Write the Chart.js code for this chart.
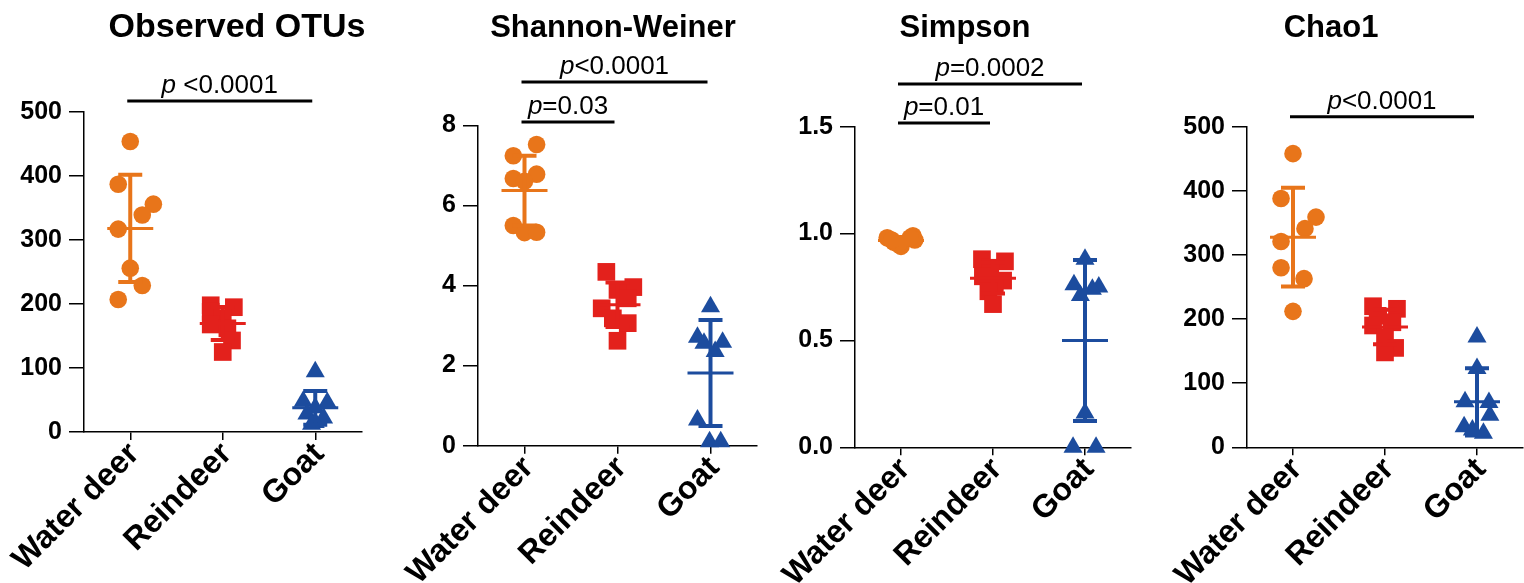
<!DOCTYPE html>
<html>
<head>
<meta charset="utf-8">
<script src="https://cdn.jsdelivr.net/npm/chart.js@4.4.1/dist/chart.umd.min.js"></script>
<style>
  body { margin: 0; background: #fff; width: 1524px; height: 583px; position: relative; overflow: hidden; }
  canvas { position: absolute; top: 0; }
</style>
</head>
<body>
<canvas id="c0"></canvas>
<canvas id="c1"></canvas>
<canvas id="c2"></canvas>
<canvas id="c3"></canvas>
<script>
const groups = ['Water deer', 'Reindeer', 'Goat'];

// Observed OTUs
const otusWaterDeer = [454, 387, 356, 339, 317, 256, 229, 207];
const otusReindeer = [198, 195, 188, 178, 168, 162, 143, 125];
const otusGoat = [94, 48, 46, 38, 28, 22, 15, 12];
const otusTicks = [0, 100, 200, 300, 400, 500];

// Shannon-Weiner
const shannonWaterDeer = [7.52, 7.24, 6.78, 6.67, 6.60, 5.50, 5.32, 5.33];
const shannonReindeer = [4.34, 3.96, 3.89, 3.68, 3.43, 3.18, 3.06, 2.62];
const shannonGoat = [3.47, 2.71, 2.56, 2.58, 2.35, 0.64, 0.10, 0.10];
const shannonTicks = [0, 2, 4, 6, 8];

// Simpson
const simpsonWaterDeer = [0.98, 0.94, 0.99, 0.97, 0.96, 0.95, 0.98, 0.97];
const simpsonReindeer = [0.88, 0.87, 0.84, 0.80, 0.78, 0.76, 0.73, 0.67];
const simpsonGoat = [0.88, 0.76, 0.75, 0.74, 0.71, 0.16, 0.00, 0.00];
const simpsonTicks = [0, 0.5, 1.0, 1.5];

// Chao1
const chaoWaterDeer = [458, 388, 359, 341, 321, 280, 263, 212];
const chaoReindeer = [220, 216, 205, 195, 190, 172, 155, 148];
const chaoGoat = [172, 123, 71, 70, 50, 32, 27, 22];
const chaoTicks = [0, 100, 200, 300, 400, 500];

// sideways spread of the dots around each group centre (category units)
const otusSpread = [[0, -0.13, 0.25, 0.13, -0.13, 0, 0.13, -0.13], [-0.13, 0.12, -0.13, 0, -0.13, 0.05, 0.1, 0], [0, -0.13, 0.13, 0, -0.09, 0.09, 0, -0.04]];
const shannonSpread = [[0.13, -0.12, 0.13, -0.12, 0, -0.12, 0, 0.13], [-0.12, 0.17, 0, 0.11, -0.17, -0.05, 0.11, 0], [0, -0.14, -0.07, 0.13, 0.05, -0.14, -0.01, 0.11]];
const simpsonSpread = [[-0.15, 0, 0.13, 0.15, -0.08, -0.03, 0.1, -0.1], [-0.12, 0.13, -0.03, -0.11, 0.11, 0.02, -0.05, 0], [0, -0.12, 0.15, 0.08, -0.05, 0, -0.13, 0.12]];
const chaoSpread = [[0, -0.13, 0.25, 0.13, -0.13, -0.13, 0.12, 0], [-0.13, 0.13, -0.08, 0.08, -0.13, 0, 0.11, 0], [0, 0, -0.13, 0.13, 0.14, -0.14, -0.05, 0.07]];

// significance brackets: [from group, to group, label]
const otusSig = [[0, 2, ' <0.0001']];
const shannonSig = [[0, 2, '<0.0001'], [0, 1, '=0.03']];
const simpsonSig = [[0, 2, '=0.0002'], [0, 1, '=0.01']];
const chaoSig = [[0, 2, '<0.0001']];

const colors = ['#E8751A', '#E3211C', '#1C4C9E'];
const shapes = ['circle', 'rect', 'triangle'];
const radii = [8.8, 12.5, 11];
const FONT = '"Liberation Sans", Arial, sans-serif';

const panels = [
  { id: 'c0', title: 'Observed OTUs', titleX: 237, titleSize: 34, left: 0, axisX: 84, right: 361.5, top: 112, bottom: 432,
    values: [otusWaterDeer, otusReindeer, otusGoat], spread: otusSpread, ticks: otusTicks, digits: 0,
    sig: otusSig, sigY: [101] },
  { id: 'c1', title: 'Shannon-Weiner', titleX: 613, titleSize: 31, left: 380, axisX: 478, right: 757, top: 125.3, bottom: 445.7,
    values: [shannonWaterDeer, shannonReindeer, shannonGoat], spread: shannonSpread, ticks: shannonTicks, digits: 0,
    sig: shannonSig, sigY: [82, 122] },
  { id: 'c2', title: 'Simpson', titleX: 965, titleSize: 31, left: 760, axisX: 855, right: 1131, top: 126.7, bottom: 447.3,
    values: [simpsonWaterDeer, simpsonReindeer, simpsonGoat], spread: simpsonSpread, ticks: simpsonTicks, digits: 1,
    sig: simpsonSig, sigY: [84, 123] },
  { id: 'c3', title: 'Chao1', titleX: 1331, titleSize: 31, left: 1140, axisX: 1247, right: 1523, top: 126.7, bottom: 447.3,
    values: [chaoWaterDeer, chaoReindeer, chaoGoat], spread: chaoSpread, ticks: chaoTicks, digits: 0,
    sig: chaoSig, sigY: [116.7] }
];

function meanSd(arr) {
  const m = arr.reduce((a, b) => a + b, 0) / arr.length;
  const v = arr.reduce((a, b) => a + (b - m) * (b - m), 0) / (arr.length - 1);
  return [m, Math.sqrt(v)];
}

// mean line with SD whiskers, drawn over the dots
const errorBars = {
  id: 'errorBars',
  afterDatasetsDraw(chart, args, opts) {
    const ctx = chart.ctx, xs = chart.scales.x, ys = chart.scales.y;
    opts.values.forEach((vals, g) => {
      const [m, sd] = meanSd(vals);
      const x = xs.getPixelForValue(g);
      const yTop = ys.getPixelForValue(m + sd), yBot = ys.getPixelForValue(m - sd), yM = ys.getPixelForValue(m);
      ctx.save();
      ctx.strokeStyle = colors[g];
      ctx.lineWidth = 4;
      ctx.beginPath();
      ctx.moveTo(x, yTop); ctx.lineTo(x, yBot);
      ctx.moveTo(x - 12, yTop); ctx.lineTo(x + 12, yTop);
      ctx.moveTo(x - 12, yBot); ctx.lineTo(x + 12, yBot);
      ctx.stroke();
      ctx.lineWidth = 3;
      ctx.beginPath();
      ctx.moveTo(x - 23, yM); ctx.lineTo(x + 23, yM);
      ctx.stroke();
      ctx.restore();
    });
  }
};

// title, slanted group names and p-value brackets
const decorations = {
  id: 'decorations',
  afterDraw(chart, args, opts) {
    const ctx = chart.ctx, xs = chart.scales.x;
    ctx.save();
    ctx.fillStyle = '#000';
    ctx.font = 'bold ' + opts.titleSize + 'px ' + FONT;
    ctx.textAlign = 'center';
    ctx.textBaseline = 'alphabetic';
    ctx.fillText(opts.title, opts.titleX - opts.left, 37);

    // group names at 45 degrees, ending just right of each tick
    ctx.font = 'bold 32px ' + FONT;
    ctx.textAlign = 'right';
    ctx.textBaseline = 'middle';
    groups.forEach((name, i) => {
      ctx.save();
      ctx.translate(xs.getPixelForValue(i) + 4, xs.top + 17);
      ctx.rotate(-Math.PI / 4);
      ctx.fillText(name, 0, 0);
      ctx.restore();
    });

    ctx.textBaseline = 'alphabetic';
    opts.sig.forEach((s, i) => {
      const y = opts.sigY[i];
      const x1 = xs.getPixelForValue(s[0]) - 3, x2 = xs.getPixelForValue(s[1]) - 3;
      ctx.strokeStyle = '#000';
      ctx.lineWidth = 3;
      ctx.beginPath();
      ctx.moveTo(x1, y); ctx.lineTo(x2, y);
      ctx.stroke();
      ctx.textAlign = 'left';
      ctx.font = 'italic 26px ' + FONT;
      const wp = ctx.measureText('p').width;
      ctx.font = '26px ' + FONT;
      const wr = ctx.measureText(s[2]).width;
      const start = (x1 + x2) / 2 - (wp + wr) / 2;
      ctx.font = 'italic 26px ' + FONT;
      ctx.fillText('p', start, y - 8);
      ctx.font = '26px ' + FONT;
      ctx.fillText(s[2], start + wp, y - 8);
    });
    ctx.restore();
  }
};

panels.forEach(p => {
  const canvas = document.getElementById(p.id);
  const w = Math.ceil(p.right - p.left) + 2;
  canvas.width = w;
  canvas.height = 583;
  canvas.style.left = p.left + 'px';
  canvas.style.width = w + 'px';
  canvas.style.height = '583px';

  const datasets = p.values.map((vals, g) => ({
    data: vals.map((v, i) => ({ x: g + p.spread[g][i], y: v })),
    pointStyle: shapes[g],
    pointRadius: radii[g],
    backgroundColor: colors[g],
    borderColor: colors[g],
    borderWidth: 0,
    clip: false
  }));

  new Chart(canvas.getContext('2d'), {
    type: 'scatter',
    data: { datasets },
    options: {
      responsive: false,
      animation: false,
      layout: { autoPadding: false, padding: { top: p.top, left: 0, right: w - (p.right - p.left), bottom: 0 } },
      plugins: {
        legend: { display: false },
        tooltip: { enabled: false },
        errorBars: { values: p.values },
        decorations: { title: p.title, titleX: p.titleX, titleSize: p.titleSize, left: p.left, sig: p.sig, sigY: p.sigY }
      },
      scales: {
        x: {
          type: 'linear',
          min: -0.5, max: 2.5,
          afterBuildTicks: s => { s.ticks = groups.map((_, i) => ({ value: i })); },
          afterFit: s => { s.height = 583 - p.bottom; },
          grid: { drawOnChartArea: false, drawTicks: true, tickLength: 8, color: '#000', lineWidth: 1.5 },
          border: { display: true, color: '#000', width: 1.5 },
          ticks: { display: false }
        },
        y: {
          min: p.ticks[0], max: p.ticks[p.ticks.length - 1],
          afterBuildTicks: s => { s.ticks = p.ticks.map(v => ({ value: v })); },
          afterFit: s => { s.width = p.axisX - p.left; },
          grid: { drawOnChartArea: false, drawTicks: true, tickLength: 15, color: '#000', lineWidth: 1.5 },
          border: { display: true, color: '#000', width: 1.5 },
          ticks: {
            padding: 7,
            color: '#000',
            font: { family: FONT, size: 25, weight: 'bold' },
            callback: v => v.toFixed(p.digits)
          }
        }
      }
    },
    plugins: [errorBars, decorations]
  });
});
</script>
</body>
</html>
